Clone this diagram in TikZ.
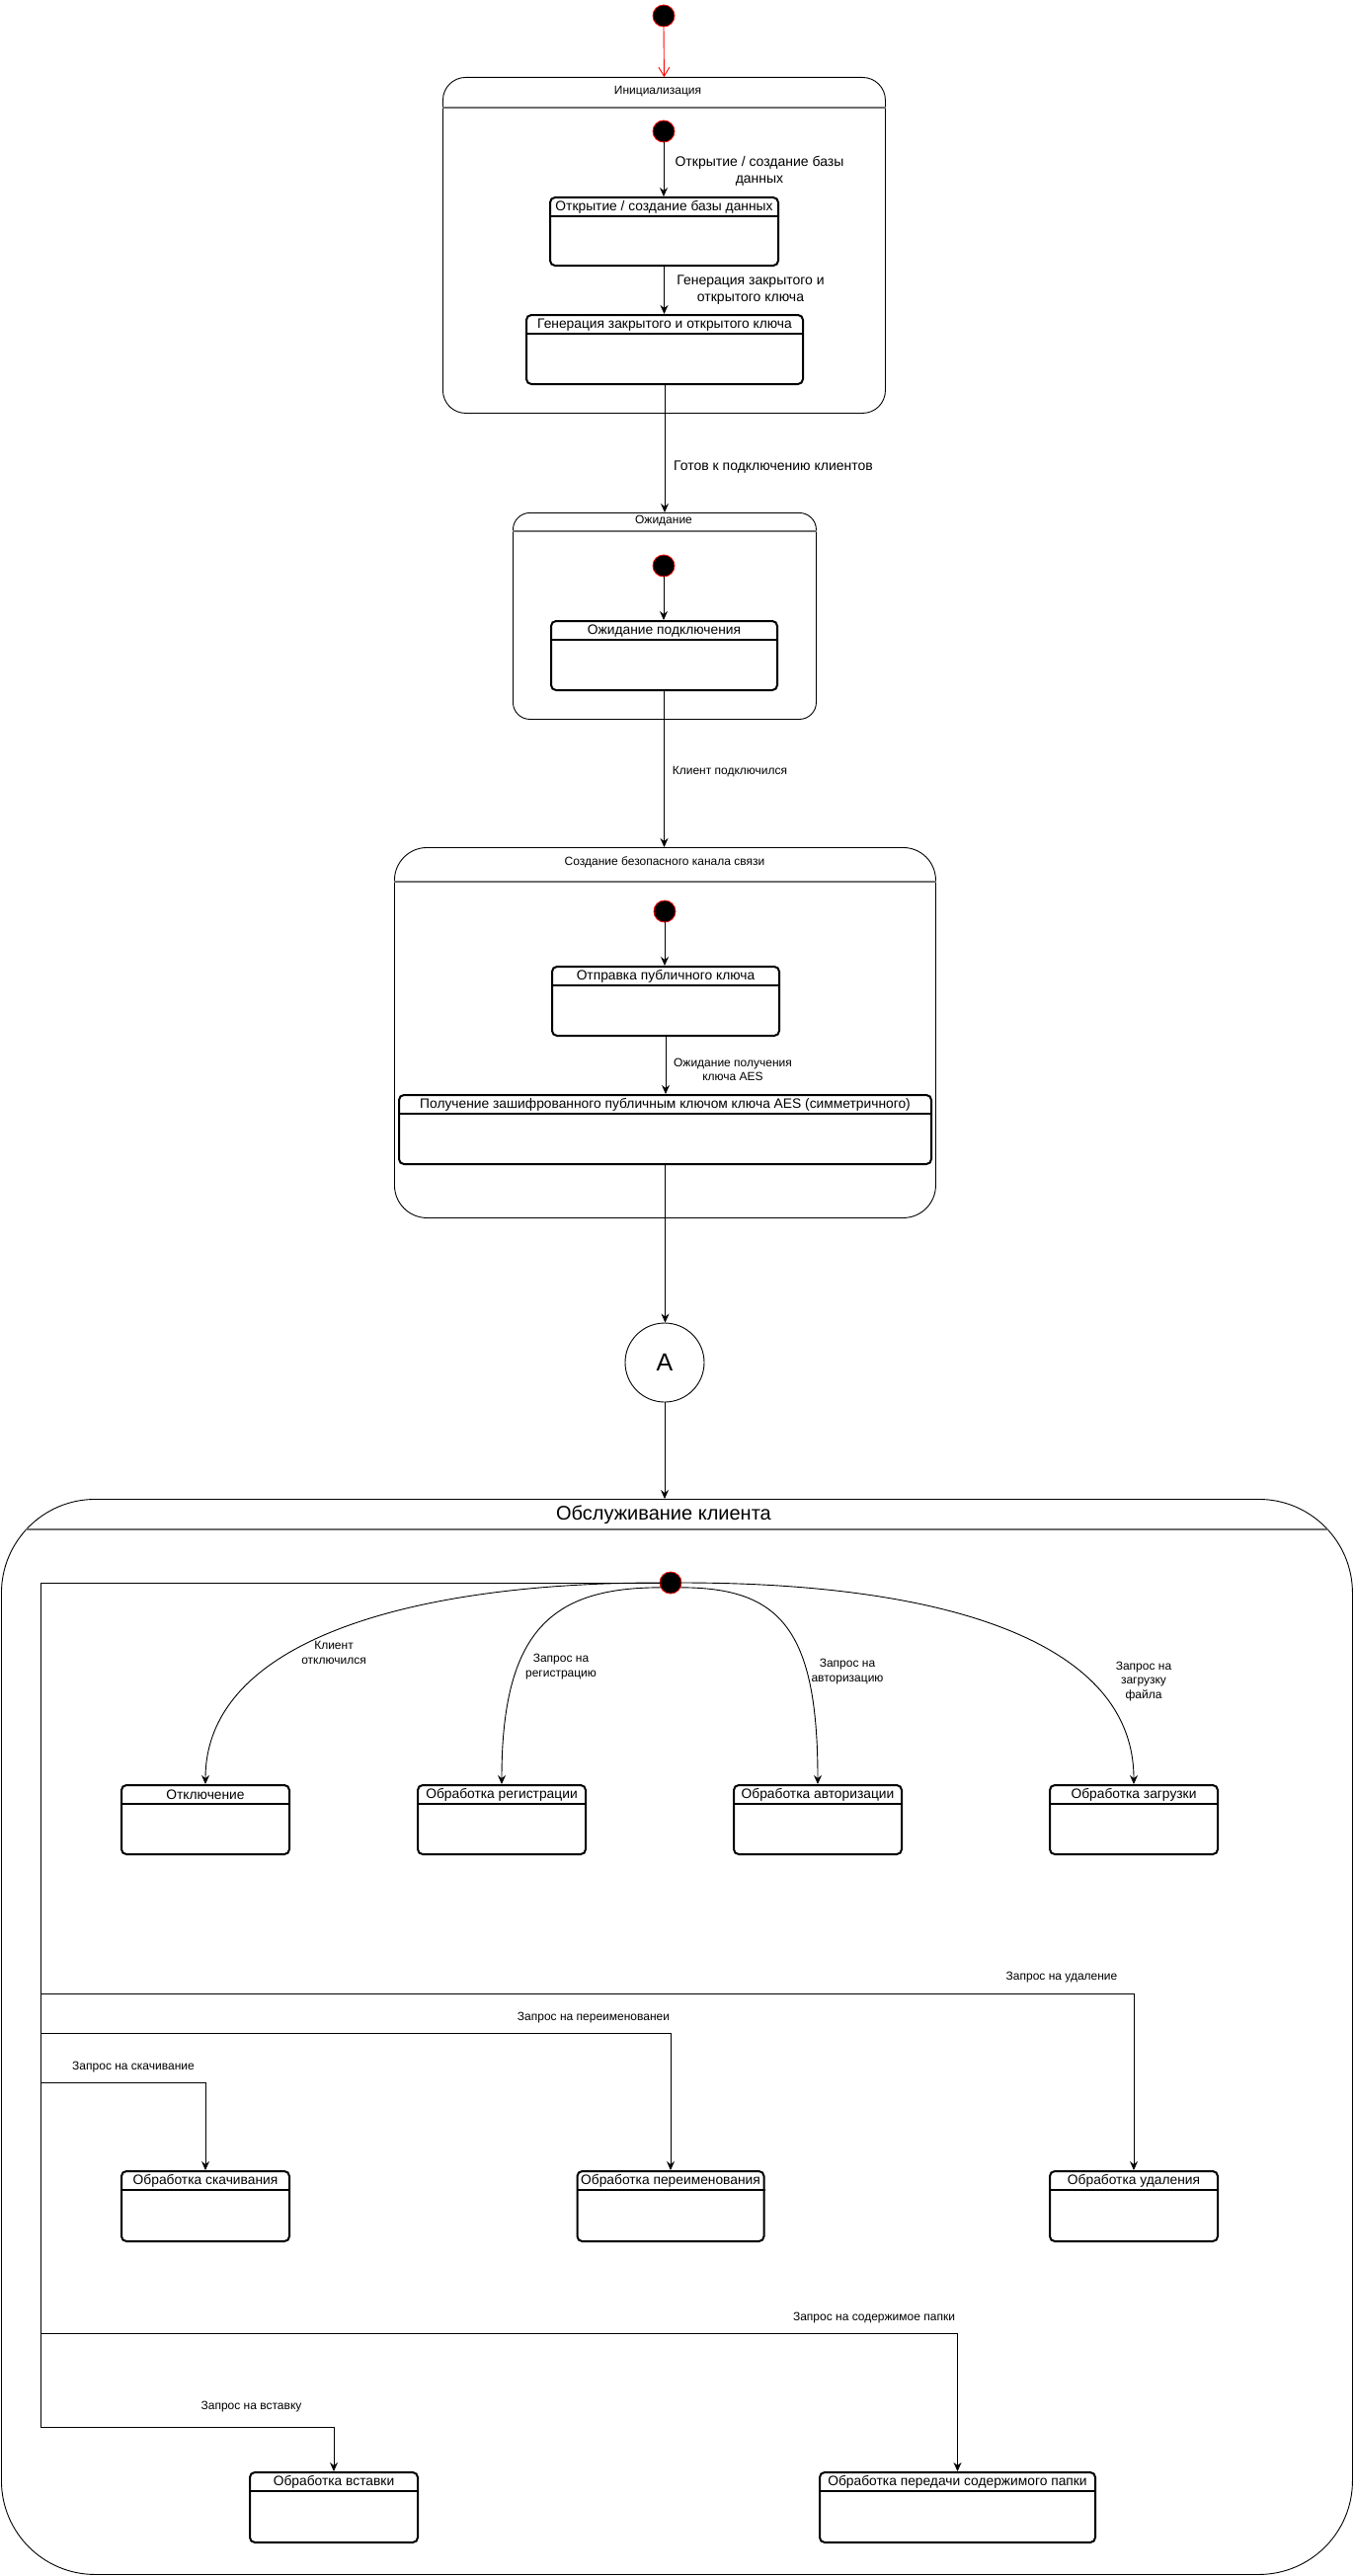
\documentclass[tikz,border=0pt]{standalone}
\usepackage{fontspec}
\setmainfont{Liberation Sans}
\usetikzlibrary{arrows.meta,calc}
\definecolor{hdrgray}{RGB}{110,110,110}
\tikzset{
  lbl/.style={font=\fontsize{12}{14.5}\selectfont, align=center, inner sep=0pt},
  lblb/.style={font=\fontsize{14}{17}\selectfont, align=center, inner sep=0pt},
  initst/.style={circle, fill=black, draw=red, line width=0.8pt, minimum size=22pt, inner sep=0pt},
  arr/.style={-{Stealth[length=9pt,width=8pt]}, line width=0.9pt},
  stbox/.style={draw, line width=2pt, rounded corners=5pt, inner sep=0pt},
  stline/.style={line width=2pt},
  sttitle/.style={font=\fontsize{13.8}{16}\selectfont, inner sep=0pt},
  comp/.style={draw, line width=0.9pt, inner sep=0pt},
  hdr/.style={draw=hdrgray, line width=1.2pt},
  comptitle/.style={font=\fontsize{12}{14.5}\selectfont, inner sep=0pt}
}
\newcommand{\stateBox}[6]{%
  \node[stbox, minimum width=#4pt, minimum height=#5pt, anchor=north] (#1) at (#2,#3) {};
  \draw[stline] ($(#1.north west)+(0,20)$) -- ($(#1.north east)+(0,20)$);
  \node[sttitle] at ($(#1.north)+(0,11)$) {#6};
}
\begin{document}
\begin{tikzpicture}[x=1pt,y=-1pt]
\useasboundingbox (0,0) rectangle (1371,2609);

% ---------- top initial ----------
\node[initst] (init0) at (672,16) {};

% ---------- Initialization ----------
\node[comp, rounded corners=23pt, minimum width=448pt, minimum height=340pt, anchor=north west] (ini) at (448,78) {};
\draw[hdr] ($(ini.north west)+(0,31)$) -- ($(ini.north east)+(0,31)$);
\node[comptitle] at (666,93) {Инициализация};
\draw[red, line width=0.9pt, -{Straight Barb[length=9pt,width=11pt]}] (init0.south) -- (ini.north);

\node[initst] (init1) at (672,133) {};
\stateBox{b1}{672.5}{199}{231}{69}{Открытие / создание базы данных}
\draw[arr] (init1) -- (init1 |- b1.north);
\node[lblb] at (769,173.5) {Открытие / создание базы\\данных};

\stateBox{b2}{673}{318}{280}{70}{Генерация закрытого и открытого ключа}
\draw[arr] (b1.south) -- (b1.south |- b2.north);
\node[lblb] at (760,293.5) {Генерация закрытого и\\открытого ключа};

% ---------- Waiting ----------
\node[comp, rounded corners=17pt, minimum width=307pt, minimum height=209pt, anchor=north west] (wait) at (519,519) {};
\draw[hdr] ($(wait.north west)+(0,19)$) -- ($(wait.north east)+(0,19)$);
\node[comptitle] at (672,528) {Ожидание};
\draw[arr] (b2.south) -- (b2.south |- wait.north);
\node[font=\fontsize{14}{17}\selectfont, inner sep=0pt] at (783,473) {Готов к подключению клиентов};

\node[initst] (init2) at (672,573) {};
\stateBox{b3}{672.5}{628}{229}{70}{Ожидание подключения}
\draw[arr] (init2) -- (init2 |- b3.north);

% ---------- Secure channel ----------
\node[comp, rounded corners=33pt, minimum width=548pt, minimum height=375pt, anchor=north west] (sec) at (399,858) {};
\draw[hdr] ($(sec.north west)+(0,35)$) -- ($(sec.north east)+(0,35)$);
\node[comptitle] at (673,873) {Создание безопасного канала связи};
\draw[arr] (b3.south) -- (b3.south |- sec.north);
\node[lbl] at (739,782) {Клиент подключился};

\node[initst] (init3) at (673,923) {};
\stateBox{b4}{674}{978}{230}{70}{Отправка публичного ключа}
\draw[arr] (init3) -- (init3 |- b4.north);
\stateBox{b5}{673.5}{1108}{539}{70}{Получение зашифрованного публичным ключом ключа AES (симметричного)}
\draw[arr] (b4.south) -- (b4.south |- b5.north);
\node[lbl] at (742,1083.5) {Ожидание получения\\ключа AES};

% ---------- connector A ----------
\node[circle, draw, line width=0.9pt, minimum size=80pt, inner sep=0pt, font=\fontsize{25}{30}\selectfont] (A) at (673,1380) {A};
\draw[arr] (b5.south) -- (b5.south |- A.north);

% ---------- Client service ----------
\node[comp, rounded corners=95pt, minimum width=1368pt, minimum height=1089pt, anchor=north west] (serv) at (1,1518) {};
\begin{scope}
  \clip[rounded corners=95pt] (1,1518) rectangle (1369,2607);
  \draw[hdr] (0,1549) -- (1371,1549);
\end{scope}
\node[font=\fontsize{20}{24}\selectfont, inner sep=0pt] at (672,1534) {Обслуживание клиента};
\draw[arr] (A.south) -- (A.south |- serv.north);

\node[initst] (init4) at (679,1603) {};

% row 1
\stateBox{otkl}{208}{1807}{170}{70}{Отключение}
\stateBox{reg}{508}{1807}{170}{70}{Обработка регистрации}
\stateBox{auth}{828}{1807}{170}{70}{Обработка авторизации}
\stateBox{upl}{1148}{1807}{170}{70}{Обработка загрузки}
% row 2
\stateBox{dl}{208}{2198}{170}{71}{Обработка скачивания}
\stateBox{ren}{679}{2198}{189}{71}{Обработка переименования}
\stateBox{del}{1148}{2198}{170}{71}{Обработка удаления}
% row 3
\stateBox{ins}{338}{2503}{170}{71}{Обработка вставки}
\stateBox{dir}{969.5}{2503}{279}{71}{Обработка передачи содержимого папки}

% curved transitions
\draw[arr] (init4.west) .. controls (420,1603) and (208,1660) .. (otkl.north);
\draw[arr] (init4.205) .. controls (560,1608) and (508,1650) .. (reg.north);
\draw[arr] (init4.335) .. controls (790,1608) and (828,1650) .. (auth.north);
\draw[arr] (init4.east) .. controls (950,1603) and (1148,1660) .. (upl.north);
\node[lbl] at (338,1674) {Клиент\\отключился};
\node[lbl] at (568,1688) {Запрос на\\регистрацию};
\node[lbl] at (858,1693) {Запрос на\\авторизацию};
\node[lbl] at (1158,1703) {Запрос на\\загрузку\\файла};

% orthogonal transitions
\coordinate (lft) at (41,1603);
\draw[arr] (init4.west) -- (lft) |- (1148,2019) -- (del.north);
\draw[arr] (init4.west) -- (lft) |- (679,2059) -- (ren.north);
\draw[arr] (init4.west) -- (lft) |- (208,2109) -- (dl.north);
\draw[arr] (init4.west) -- (lft) |- (969.5,2363) -- (dir.north);
\draw[arr] (init4.west) -- (lft) |- (338,2458) -- (ins.north);
\node[lbl] at (1075,2003) {Запрос на удаление};
\node[lbl] at (601,2044) {Запрос на переименованеи};
\node[lbl] at (135,2094) {Запрос на скачивание};
\node[lbl] at (885,2348) {Запрос на содержимое папки};
\node[lbl] at (254.5,2438) {Запрос на вставку};
\end{tikzpicture}
\end{document}
